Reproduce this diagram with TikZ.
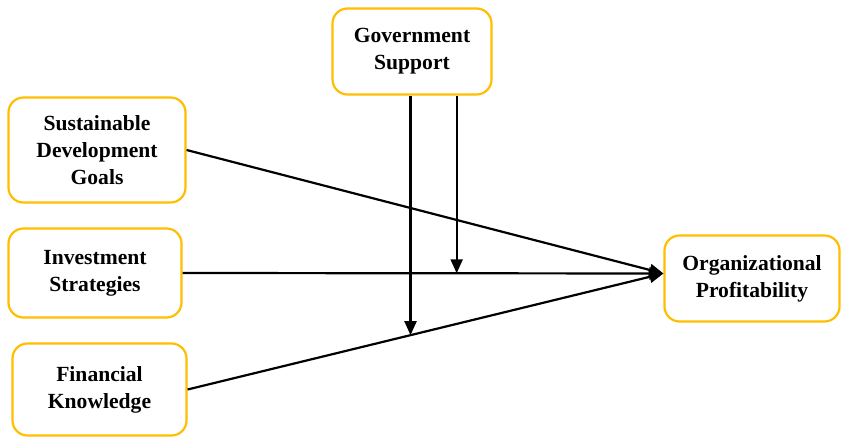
\documentclass[tikz,border=0pt]{standalone}
\usepackage{fontspec}
\setmainfont{Liberation Serif}
\usepackage{tikz}
\usetikzlibrary{arrows, arrows.meta}
\definecolor{boxgold}{RGB}{255,190,0}

\begin{document}
\begin{tikzpicture}[x=1pt,y=-1pt,font=\bfseries\fontsize{21.6}{27}\selectfont,
    box/.style={draw=boxgold, line width=2.2pt, rounded corners=15pt, align=center, inner sep=0pt},
    link/.style={line width=2.2pt, -{Triangle[length=14pt,width=12pt]}}]
    \useasboundingbox (0,0) rectangle (842,438);
    % factors
    \node[box, minimum width=177pt, minimum height=105pt] (sdg) at (97,150) {Sustainable\\Development\\Goals};
    \node[box, minimum width=173pt, minimum height=89pt] (inv) at (95,273) {Investment\\Strategies};
    \node[box, minimum width=174pt, minimum height=92pt] (fin) at (99.5,389.5) {Financial\\Knowledge};
    \node[box, minimum width=159pt, minimum height=86pt] (gov) at (412,51.5) {Government\\Support};
    \node[box, minimum width=175pt, minimum height=86pt] (org) at (752,278.5) {Organizational\\Profitability};
    \coordinate (target) at ([yshift=5pt]org.west);
    % main effects
    \draw[link] (sdg.east) -- (target);
    \draw[link] (inv.east) -- (target);
    \draw[link] (fin.east) -- (target);
    % moderation
    \path (inv.east) -- (target) coordinate[pos=0.57] (invmod);
    \path (fin.east) -- (target) coordinate[pos=0.4685] (finmod);
    \draw[link] (gov.south -| finmod) -- (finmod);
    \draw[link] (gov.south -| invmod) -- (invmod);
\end{tikzpicture}
\end{document}
